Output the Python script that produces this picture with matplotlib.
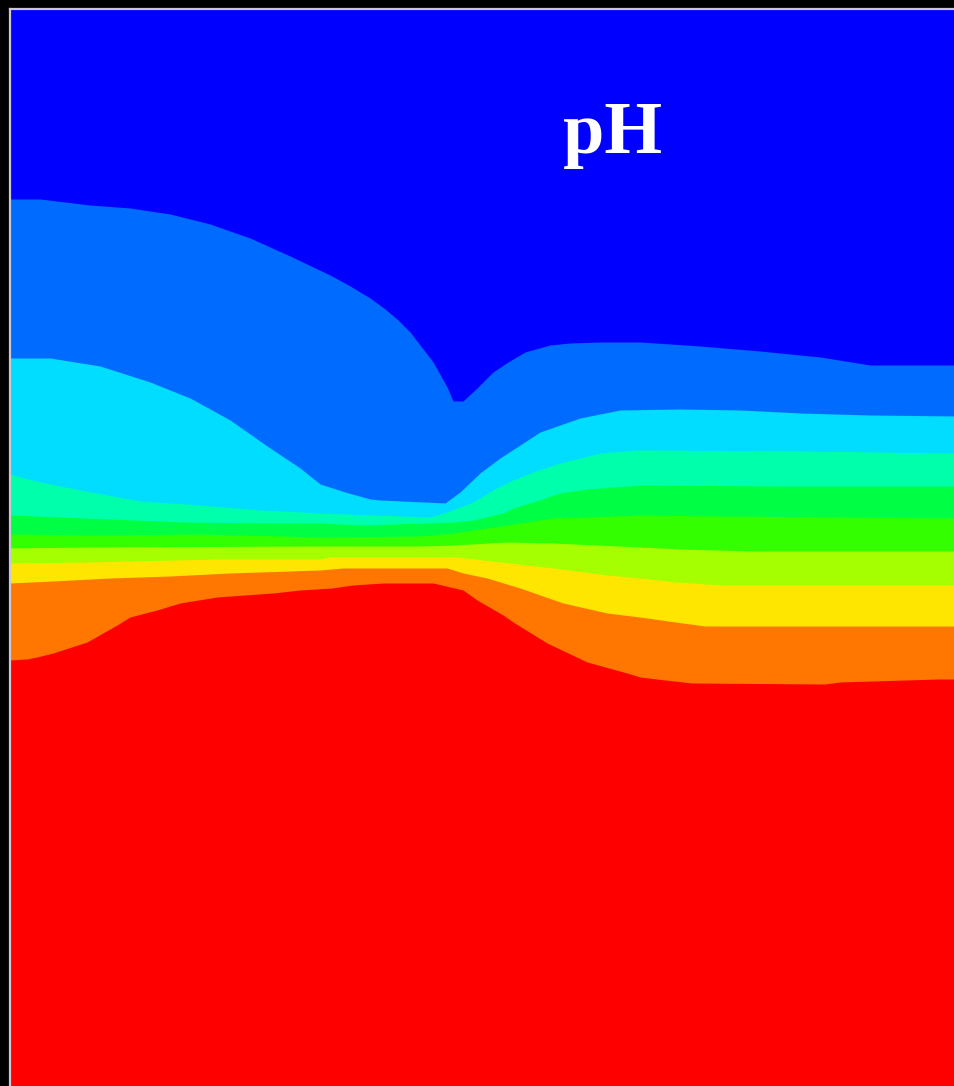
import numpy as np
import matplotlib
matplotlib.use("Agg")
import matplotlib.pyplot as plt

W, H = 954, 1086
colors = ["#0000ff", "#006cff", "#00ddff", "#00ffaa", "#00ff44",
          "#33ff00", "#a6ff00", "#ffe600", "#ff7700", "#ff0000"]

x1 = [9, 40, 90, 130, 170, 210, 250, 290, 330, 350, 370, 385, 398, 410, 420, 433, 447, 453, 463, 477, 493, 508, 525, 550, 570, 600, 640, 700, 760, 820, 870, 954]
y1 = [199, 199, 205, 208, 214, 224, 238, 256, 275, 286, 298, 309, 320, 332, 345, 362, 387, 401, 401, 388, 372, 362, 352, 345, 343, 342, 342, 346, 351, 357, 365, 365]

x2 = [9, 50, 100, 150, 190, 230, 270, 300, 320, 345, 370, 380, 445, 460, 480, 500, 517, 540, 560, 580, 620, 680, 740, 800, 870, 954]
y2 = [358, 358, 366, 382, 398, 420, 448, 468, 484, 492, 499, 500, 503, 492, 473, 458, 447, 432, 425, 418, 410, 409, 410, 413, 415, 416]

x3 = [9, 40, 80, 140, 200, 260, 320, 370, 430, 447, 473, 493, 513, 533, 560, 600, 640, 800, 954]
y3 = [474, 482, 490, 501, 505, 510, 513, 515, 517, 512, 502, 490, 480, 472, 463, 453, 450, 451, 453]

x4 = [9, 110, 183, 273, 320, 360, 430, 453, 473, 503, 513, 533, 560, 587, 640, 780, 954]
y4 = [515, 519, 522, 523, 523, 525, 523, 522, 520, 513, 508, 502, 493, 489, 485, 486, 486]

x5 = [9, 100, 200, 320, 420, 453, 487, 520, 553, 587, 640, 720, 954]
y5 = [534, 535, 534, 537, 536, 533, 528, 523, 518, 517, 515, 516, 518]

x6 = [9, 90, 320, 420, 453, 507, 553, 640, 680, 755, 954]
y6 = [548, 547, 546, 546, 545, 542, 543, 547, 549, 551, 551]

x7 = [9, 90, 217, 320, 330, 457, 500, 553, 607, 640, 675, 720, 954]
y7 = [563, 562, 559, 559, 557, 557, 562, 568, 575, 578, 582, 585, 585]

x8 = [9, 53, 110, 170, 230, 290, 320, 343, 447, 463, 487, 520, 563, 607, 640, 675, 705, 954]
y8 = [583, 581, 578, 576, 573, 571, 570, 568, 568, 573, 578, 588, 603, 613, 617, 622, 626, 626]

x9 = [9, 27, 37, 53, 87, 117, 130, 157, 180, 217, 273, 300, 332, 353, 383, 433, 463, 477, 503, 513, 547, 587, 627, 640, 665, 692, 825, 840, 938, 954]
y9 = [660, 659, 657, 653, 642, 625, 617, 610, 603, 597, 593, 590, 588, 585, 583, 583, 590, 600, 615, 622, 643, 662, 673, 677, 680, 683, 684, 682, 679, 679]

boundaries = [(x1, y1), (x2, y2), (x3, y3), (x4, y4), (x5, y5),
              (x6, y6), (x7, y7), (x8, y8), (x9, y9)]
label = "pH"

fig = plt.figure(figsize=((W + 0.01) / 100, (H + 0.01) / 100), dpi=100, facecolor="black")
ax = fig.add_axes([9.5 / W, 0, (W - 9.5) / W, (H - 9.5) / H])
ax.set_xlim(9.5, W)
ax.set_ylim(H, 9.5)
ax.set_facecolor(colors[0])

for (xs, ys), c in zip(boundaries, colors[1:]):
    ax.fill_between(xs, ys, H, color=c, linewidth=0, zorder=2)

ax.text(563, 153, label, color="white", fontsize=53.5, fontweight="bold",
        family="Liberation Serif", ha="left", va="baseline", zorder=3)

ax.set_xticks([])
ax.set_yticks([])
for s in ("right", "bottom"):
    ax.spines[s].set_visible(False)
for s in ("left", "top"):
    ax.spines[s].set_color("#c9c9d6")
    ax.spines[s].set_linewidth(1.6)
    ax.spines[s].set_zorder(5)

fig.savefig("out.png", dpi=100, facecolor="black")
